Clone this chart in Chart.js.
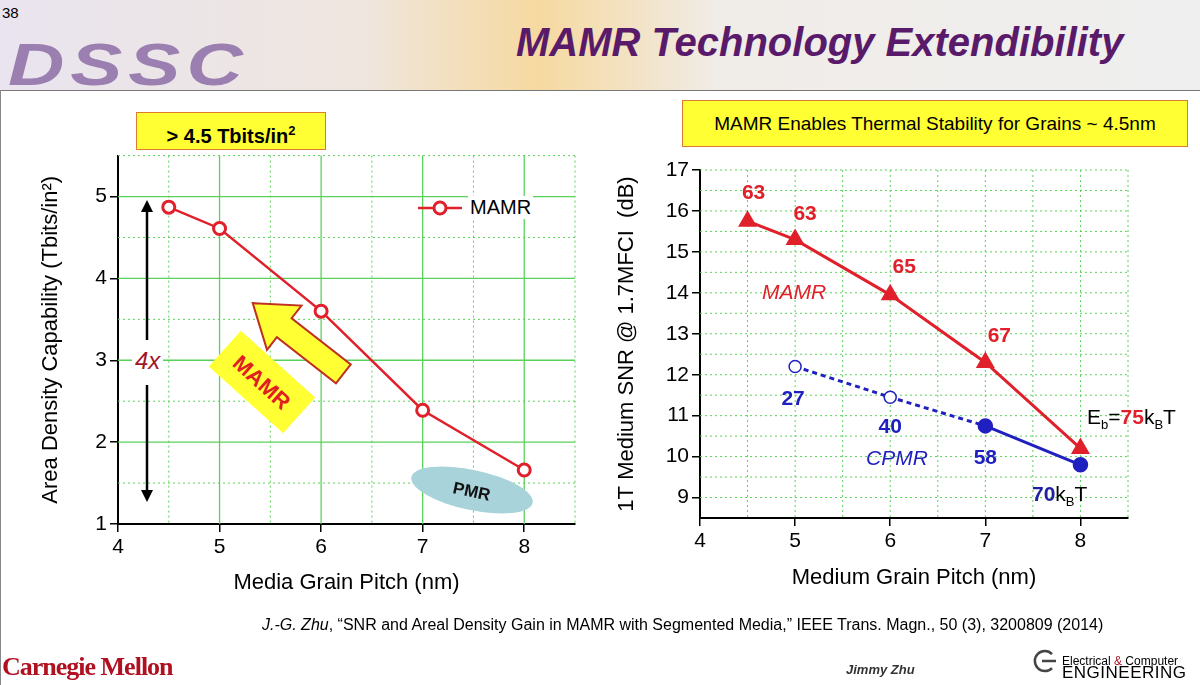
<!DOCTYPE html>
<html><head><meta charset="utf-8">
<script src="https://cdn.jsdelivr.net/npm/chart.js@4"></script>
<style>
body{margin:0;width:1200px;height:685px;position:relative;overflow:hidden;background:#fff;font-family:Arial,"Liberation Sans",sans-serif}
.a{position:absolute;white-space:nowrap}
#hdr{position:absolute;left:0;top:0;width:1200px;height:90px;background:linear-gradient(90deg,#e9e4ef 0%,#efe6df 30%,#f6d9a0 45%,#f0ece8 60%,#efefef 100%);border-bottom:1px solid #777}
canvas{position:absolute}
</style></head><body>
<div id="hdr"></div>
<div class="a" style="left:2px;top:4px;font-size:15px">38</div>
<div class="a" style="left:8px;top:8px;font-size:78px;font-weight:bold;font-style:italic;color:#9b7fb0;letter-spacing:6px;transform:scaleY(0.75);transform-origin:0 100%">DSSC</div>
<div class="a" style="left:516px;top:20px;font-size:40px;font-weight:bold;font-style:italic;color:#5a1a6a">MAMR Technology Extendibility</div>
<div style="position:absolute;left:0;top:90px;width:1px;height:595px;background:#888"></div>

<div class="a" style="left:136px;top:112px;width:188px;height:36px;background:#ffff33;border:1px solid #e07a30;font-size:20px;font-weight:bold;line-height:36px;text-align:center">&gt; 4.5 Tbits/in<sup style="font-size:13px">2</sup></div>
<div class="a" style="left:682px;top:100px;width:504px;height:45px;background:#ffff33;border:1px solid #e07a30;font-size:19px;line-height:45px;text-align:center">MAMR Enables Thermal Stability for Grains ~ 4.5nm</div>

<canvas id="c1" width="570" height="460" style="left:20px;top:140px;width:570px;height:460px"></canvas>
<canvas id="c2" width="530" height="445" style="left:610px;top:150px;width:530px;height:445px"></canvas>

<svg style="position:absolute;left:0;top:0" width="1200" height="685">
 <line x1="147" y1="210" x2="147" y2="340" stroke="#000" stroke-width="2.5"/>
 <line x1="147" y1="385" x2="147" y2="492" stroke="#000" stroke-width="2.5"/>
 <polygon points="141,212 147,200 153,212" fill="#000"/>
 <polygon points="141,490 147,502 153,490" fill="#000"/>
 <g transform="translate(300,340) rotate(38)">
  <polygon points="-60,0 -20,-28 -20,-12 55,-12 55,12 -20,12 -20,28" fill="#ffff33" stroke="#c03020" stroke-width="2"/>
 </g>
 <g transform="translate(262,382) rotate(42)">
  <rect x="-50" y="-24" width="100" height="48" fill="#ffff33"/>
  <text x="0" y="8" text-anchor="middle" font-size="22" font-weight="bold" fill="#e02020" font-family="Arial">MAMR</text>
 </g>
 <g transform="translate(472,490) rotate(12)">
  <ellipse cx="0" cy="0" rx="62" ry="20" fill="#a9d3da"/>
  <text x="0" y="7" text-anchor="middle" font-size="17" font-weight="bold" fill="#111" font-family="Arial">PMR</text>
 </g>
 <line x1="418" y1="208" x2="462" y2="208" stroke="#e0202a" stroke-width="2.5"/>
 <circle cx="440" cy="208" r="6" fill="#fff" stroke="#e0202a" stroke-width="3"/>
 <path d="M1052,668 a10,10 0 1,1 0,-14 M1042,661 l14,0" fill="none" stroke="#444" stroke-width="2.5"/>
</svg>
<div class="a" style="left:132px;top:347px;font-size:24px;font-style:italic;color:#a01828;background:#fff;padding:0 3px">4x</div>
<div class="a" style="left:468px;top:196px;font-size:20px;background:#fff;padding:0 2px">MAMR</div>

<div class="a" style="left:762px;top:280px;font-size:21px;font-style:italic;color:#e0202a">MAMR</div>
<div class="a" style="left:866px;top:446px;font-size:21px;font-style:italic;color:#2020c0">CPMR</div>
<div class="a" style="left:1087px;top:405px;font-size:21px">E<sub style="font-size:13px">b</sub>=<b style="color:#e0202a">75</b>k<sub style="font-size:13px">B</sub>T</div>
<div class="a" style="left:1032px;top:482px;font-size:21px"><b style="color:#2020a0">70</b>k<sub style="font-size:13px">B</sub>T</div>

<div class="a" style="left:262px;top:616px;font-size:16px"><i>J.-G. Zhu</i>, “SNR and Areal Density Gain in MAMR with Segmented Media,” IEEE Trans. Magn., 50 (3), 3200809 (2014)</div>
<div class="a" style="left:2px;top:652px;font-size:26px;font-weight:bold;color:#b01020;font-family:'Liberation Serif',serif;letter-spacing:-1px">Carnegie Mellon</div>
<div class="a" style="left:846px;top:662px;font-size:13px;font-weight:bold;font-style:italic;color:#333">Jimmy Zhu</div>
<div class="a" style="left:1062px;top:655px;font-size:12px;line-height:12px">Electrical <span style="color:#b01020">&amp;</span> Computer<br><span style="font-size:17px;letter-spacing:0.5px">ENGINEERING</span></div>

<script>
const xLeft=[4.5,5,6,7,8];
const mamrLeft=[4.87,4.61,3.6,2.39,1.66];
const xRight=[4.5,5,6,7,8];
const mamrRight=[15.75,15.3,13.95,12.3,10.2];
const xCpmr=[5,6,7,8];
const cpmrRight=[12.2,11.45,10.75,9.8];
const mamrLabels=["63","63","65","67",""];
const cpmrLabels=["27","40","58",""];
const leftYTicks=[1,2,3,4,5];
const rightYTicks=[9,10,11,12,13,14,15,16,17];
const xTicks=[4,5,6,7,8];

const gridPlugin={id:'gridp',beforeDatasetsDraw(ch){
 const c=ch.ctx,ar=ch.chartArea,sx=ch.scales.x,sy=ch.scales.y,g=ch.options.plugins.gridp;
 c.save();c.strokeStyle='#5ad25a';
 for(let v=sx.min;v<=sx.max+1e-6;v+=0.5){const p=sx.getPixelForValue(v);if(p<=ar.left+1)continue;
  const maj=g.solidMajor&&Math.abs(v-Math.round(v))<1e-6;c.lineWidth=maj?1.3:1;c.setLineDash(maj?[]:[2,3]);
  c.beginPath();c.moveTo(p,ar.top);c.lineTo(p,ar.bottom);c.stroke();}
 for(let v=sy.min;v<=sy.max+1e-6;v+=0.5){const p=sy.getPixelForValue(v);if(p>=ar.bottom-1)continue;
  const maj=g.solidMajor&&Math.abs(v-Math.round(v))<1e-6;c.lineWidth=maj?1.3:1;c.setLineDash(maj?[]:[2,3]);
  c.beginPath();c.moveTo(ar.left,p);c.lineTo(ar.right,p);c.stroke();}
 c.restore();}};
const labelPlugin={id:'lblp',afterDatasetsDraw(ch){
 const c=ch.ctx;c.save();c.font='bold 21px Arial';c.textAlign='center';
 ch.data.datasets.forEach((ds,i)=>{if(!ds.lbls)return;const m=ch.getDatasetMeta(i);
  m.data.forEach((pt,j)=>{const t=ds.lbls[j];if(!t)return;c.fillStyle=ds.lblColor;
   c.fillText(t,pt.x+ds.lblDx[j],pt.y+ds.lblDy[j]);});});c.restore();}};

function axes(xmin,xmax,ymin,ymax,yt,ytitle,xtitle,yw,xh){
 const common={border:{color:'#000',width:2},grid:{drawOnChartArea:false,color:'#000',tickLength:8,lineWidth:1.5},
  ticks:{color:'#000',font:{size:21,family:'Arial'}}};
 return {
 x:{type:'linear',min:xmin,max:xmax,...common,afterBuildTicks:s=>{s.ticks=xTicks.map(v=>({value:v}));},
   title:{display:true,text:xtitle,color:'#000',font:{size:22,family:'Arial'},padding:{top:0}},afterFit:s=>{s.height=xh;}},
 y:{type:'linear',min:ymin,max:ymax,...common,afterBuildTicks:s=>{s.ticks=yt.map(v=>({value:v}));},
   title:{display:true,text:ytitle,color:'#000',font:{size:22,family:'Arial'},padding:{bottom:6}},afterFit:s=>{s.width=yw;}}};
}

new Chart(document.getElementById('c1'),{type:'line',
 data:{datasets:[{data:xLeft.map((x,i)=>({x,y:mamrLeft[i]})),borderColor:'#e0202a',borderWidth:2.5,
  pointRadius:6,pointBorderWidth:3,pointBackgroundColor:'#fff',pointBorderColor:'#e0202a',tension:0}]},
 options:{responsive:false,animation:false,layout:{padding:{top:12,right:15,left:14}},
  plugins:{legend:{display:false},tooltip:{enabled:false},gridp:{solidMajor:true}},
  scales:axes(4,8.5,1,5.5,leftYTicks,'Area Density Capability (Tbits/in²)','Media Grain Pitch (nm)',84,76)},
 plugins:[gridPlugin]});

new Chart(document.getElementById('c2'),{type:'line',
 data:{datasets:[
  {data:xRight.map((x,i)=>({x,y:mamrRight[i]})),borderColor:'#e0202a',borderWidth:3,pointStyle:'triangle',
   pointRadius:8,pointBackgroundColor:'#e0202a',pointBorderColor:'#e0202a',
   lbls:mamrLabels,lblColor:'#e0202a',lblDx:[6,10,14,14,0],lblDy:[-22,-20,-22,-20,0]},
  {data:xCpmr.map((x,i)=>({x,y:cpmrRight[i]})),borderColor:'#2020c0',borderWidth:3,
   pointRadius:[6,6,7,7],pointBorderWidth:1.5,pointBackgroundColor:['#fff','#fff','#2020c0','#2020c0'],pointBorderColor:'#2020c0',
   segment:{borderDash:c=>c.p1DataIndex<=2?[5,4]:undefined},
   lbls:cpmrLabels,lblColor:'#2020c0',lblDx:[-2,0,0,0],lblDy:[38,36,38,0]}]},
 options:{responsive:false,animation:false,layout:{padding:{top:20,right:12}},
  plugins:{legend:{display:false},tooltip:{enabled:false},gridp:{solidMajor:false}},
  scales:axes(4,8.5,8.5,17,rightYTicks,'1T Medium SNR @ 1.7MFCI  (dB)','Medium Grain Pitch (nm)',90,77)},
 plugins:[gridPlugin,labelPlugin]});
</script>
</body></html>
